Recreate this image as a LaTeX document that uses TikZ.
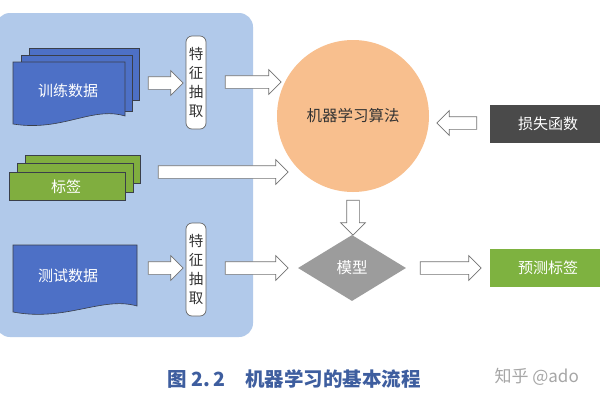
\documentclass[tikz,border=0pt]{standalone}
\usepackage{fontspec}
\setmainfont{Noto Sans CJK SC}
\usetikzlibrary{shapes.arrows,shapes.geometric}
\definecolor{panel}{HTML}{B1C9EA}
\definecolor{docblue}{HTML}{4D70C6}
\definecolor{labgreen}{HTML}{80AE3F}
\definecolor{peach}{HTML}{F8BF8E}
\definecolor{lossgray}{HTML}{4A4A4A}
\definecolor{modelgray}{HTML}{9C9C9C}
\definecolor{predgreen}{HTML}{7EB240}
\definecolor{capblue}{HTML}{3E5E9F}
\definecolor{edge}{HTML}{3A3F4A}
\begin{document}
\begin{tikzpicture}[x=1pt,y=-1pt,
  blockarrow/.style={single arrow, draw=black!55, fill=white, line width=0.7pt,
    inner xsep=0pt, inner ysep=6pt, single arrow head extend=6pt, single arrow tip angle=90},
  docshape/.style={fill=docblue, draw=edge, line width=0.6pt},
  labshape/.style={fill=labgreen, draw=edge, line width=0.6pt},
  wlabel/.style={text=white, font=\fontsize{15}{18}\selectfont},
  febox/.style={draw=black!60, fill=white, rounded corners=6pt, line width=0.7pt,
    minimum width=20pt, minimum height=93pt, inner sep=0pt, align=center,
    font=\fontsize{14.5}{19}\selectfont, text=black!80},
  sidebox/.style={minimum width=116pt, minimum height=38pt, inner sep=0pt,
    text=white, font=\fontsize{15}{18}\selectfont}
]
\useasboundingbox (0,0) rectangle (600,400);
\fill[white] (0,0) rectangle (600,400);
% panel
\fill[panel, rounded corners=14pt] (-4,13) rectangle (253,337);

% training data stack
\draw[docshape] (29,48) rectangle (139,100);
\draw[docshape] (21,55) rectangle (132,111);
\draw[docshape] (13,62) -- (125,62) -- (125,116)
  .. controls (92,106) and (62,132) .. (13,124) -- cycle;
\node[wlabel] (train) at (68,91) {训练数据};

% label stack
\draw[labshape] (25,155) rectangle (140,183);
\draw[labshape] (17,163) rectangle (133,192);
\draw[labshape] (9,172) rectangle (125,200);
\node[wlabel] (lab) at (66,187) {标签};

% test data
\draw[docshape] (13,245) -- (137,245) -- (137,306)
  .. controls (102,296) and (66,322) .. (13,312) -- cycle;
\node[wlabel] (test) at (68,276) {测试数据};

% feature extraction boxes
\node[febox] (fe1) at (196,82.5) {特\\征\\抽\\取};
\node[febox] (fe2) at (196,269.5) {特\\征\\抽\\取};

% algorithm circle
\node[circle, fill=peach, minimum size=152pt, inner sep=0pt,
  font=\fontsize{15.5}{18}\selectfont, text=black!80] (algo) at (353,116) {机器学习算法};

% loss function
\node[sidebox, fill=lossgray] (loss) at (548,123.5) {损失函数};

% model diamond
\node[diamond, fill=modelgray, aspect=1.64, minimum width=108pt, minimum height=66pt,
  inner sep=0pt, text=white, font=\fontsize{15.5}{18}\selectfont] (model) at (352,268) {模型};

% predicted labels
\node[sidebox, fill=predgreen] (pred) at (548,268) {预测标签};

% block arrows
\node[blockarrow, minimum height=35pt] (a1) at (162.5,83) {};
\node[blockarrow, minimum height=56pt] (a2) at (250,82) {};
\node[blockarrow, minimum height=130pt] (a3) at (220,172) {};
\node[blockarrow, minimum height=35pt] (a4) at (162.5,268) {};
\node[blockarrow, minimum height=63pt] (a5) at (253.5,268) {};
\node[blockarrow, minimum height=40pt, shape border rotate=180] (a6) at (460,123) {};
\node[blockarrow, minimum height=35pt, inner xsep=6pt, inner ysep=0pt, shape border rotate=270] (a7) at (353,214.5) {};
\node[blockarrow, minimum height=61pt] (a8) at (447.5,268) {};

% caption
\node[anchor=west, text=capblue, font=\fontsize{19.5}{22}\selectfont\bfseries] (cap) at (164,379)
  {图 2.\,2\hspace{20pt}机器学习的基本流程};
\node[anchor=west, text=black!35, font=\fontsize{17}{20}\selectfont] (wm) at (491,377) {知乎 @ado};
\end{tikzpicture}
\end{document}
